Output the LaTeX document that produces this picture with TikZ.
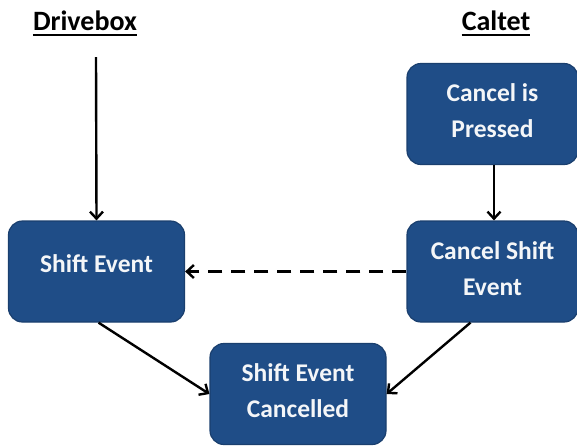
\documentclass[tikz,border=0pt]{standalone}
\usepackage{fontspec}
\setmainfont{Carlito}
\usetikzlibrary{arrows.meta}

\definecolor{boxfill}{HTML}{1F4D87}
\definecolor{boxedge}{HTML}{1A3F6E}
\definecolor{boxtext}{HTML}{F4F6F8}

\tikzset{
  box/.style={draw=boxedge, line width=1.2pt, fill=boxfill, rounded corners=14pt,
    minimum width=176pt, minimum height=101pt, inner sep=0pt},
  boxlabel/.style={text=boxtext, align=center,
    font=\fontsize{25.5}{36}\selectfont\bfseries},
  heading/.style={inner sep=0pt, font=\fontsize{28}{32}\selectfont\bfseries},
  flow/.style={line width=2.4pt, -{Straight Barb[length=7pt,width=13pt,line width=2.4pt]}},
  flowdash/.style={flow, dash pattern=on 14pt off 9pt}
}

\begin{document}
\begin{tikzpicture}[x=1pt, y=-1pt]
  \useasboundingbox (0,0) rectangle (577,445);

  % column headings
  \node[heading, anchor=base] (hdrive) at (85,30) {Drivebox};
  \node[heading, anchor=base] (hcal) at (496,30) {Caltet};
  \draw[line width=2.2pt] ([yshift=-5pt]hdrive.base west) -- ([yshift=-5pt]hdrive.base east);
  \draw[line width=2.2pt] ([yshift=-5pt]hcal.base west) -- ([yshift=-5pt]hcal.base east);

  % boxes with their captions
  \node[box, label={[boxlabel, yshift=8pt]center:Shift Event}] (se) at (96.5,271.5) {};
  \node[box, minimum width=171pt,
        label={[boxlabel, yshift=3pt]center:Cancel is\\Pressed}] (cp) at (492.5,114) {};
  \node[box, minimum width=171pt,
        label={[boxlabel, yshift=3pt]center:Cancel Shift\\Event}] (cse) at (492.5,271.5) {};
  \node[box,
        label={[boxlabel, yshift=3pt]center:Shift Event\\Cancelled}] (sec) at (298,394) {};

  % connectors
  \coordinate (drvstart) at (96,57);
  \draw[flow] (drvstart) -- (se.north);
  \draw[flow] ([xshift=1.5pt]cp.south) -- ([xshift=1.5pt]cse.north);
  \draw[flowdash] (cse.west) -- (se.east);
  \draw[flow] ([xshift=2pt]se.south) -- (sec.west);
  \draw[flow] ([xshift=-22pt]cse.south) -- (sec.east);
\end{tikzpicture}
\end{document}
